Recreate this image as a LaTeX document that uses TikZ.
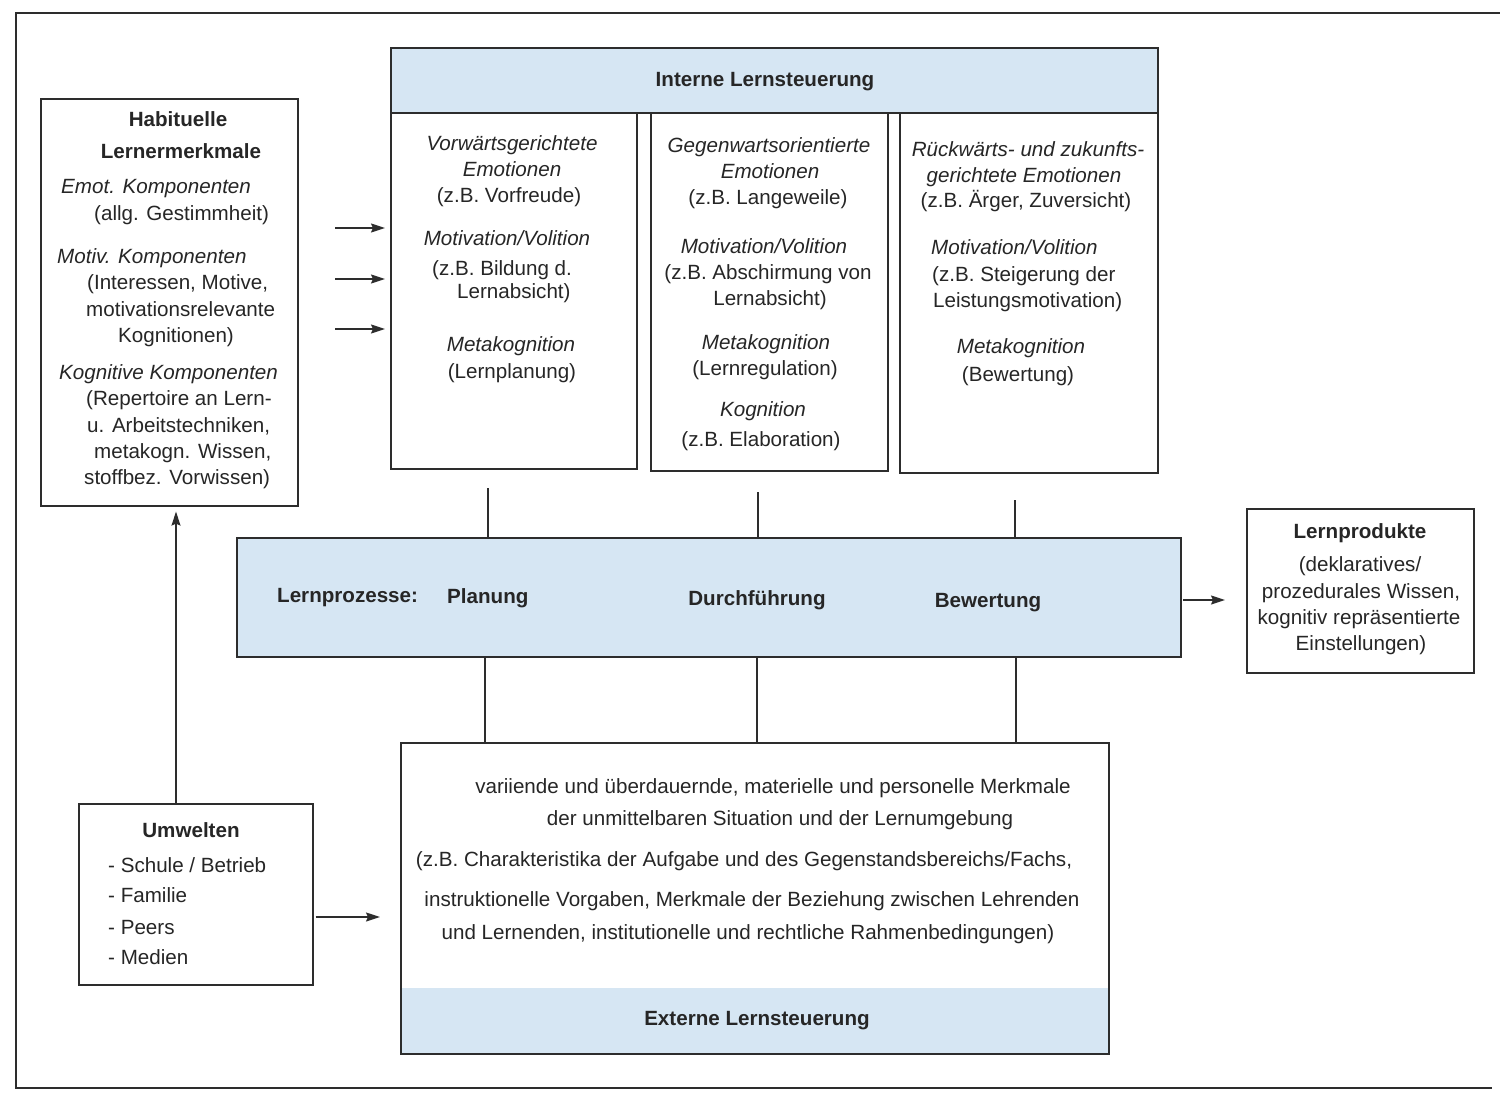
\documentclass[tikz,border=0pt]{standalone}
\usepackage{fontspec}
\setmainfont{Liberation Sans}
\usetikzlibrary{arrows.meta}
\definecolor{frame}{RGB}{45,45,45}
\definecolor{boxblue}{RGB}{214,230,243}
\begin{document}
\begin{tikzpicture}[x=1pt,y=-1pt,
  box/.style={draw=frame, line width=1.6pt, inner sep=0pt, anchor=north west},
  shaded/.style={box, fill=boxblue},
  tx/.style={inner sep=0pt, text height=15pt, text depth=4.5pt, text=black!85, font=\fontsize{20.6}{24}\selectfont},
  it/.style={tx, font=\fontsize{20.6}{24}\selectfont\itshape},
  bf/.style={tx, font=\fontsize{20.6}{24}\selectfont\bfseries},
  lft/.style={anchor=west},
  conn/.style={draw=frame, line width=1.4pt},
  arr/.style={conn, -{Stealth[length=14pt,width=9pt,inset=2pt]}}
]
\useasboundingbox (0,0) rectangle (1500,1094);
\fill[white] (0,0) rectangle (1500,1094);
% outer frame
\draw[frame, line width=2pt] (1500,13) -- (16,13) -- (16,1088) -- (1492,1088);

% ---------- boxes ----------
\node[box, minimum width=257pt, minimum height=407pt] (hab) at (40,98) {};
\node[shaded, minimum width=767pt, minimum height=65pt] (ihead) at (390,47) {};
\node[box, minimum width=246pt, minimum height=356pt] (col1) at (390,112) {};
\node[box, minimum width=237pt, minimum height=358pt] (col2) at (650,112) {};
\node[box, minimum width=258pt, minimum height=360pt] (col3) at (899,112) {};
\node[shaded, minimum width=944pt, minimum height=119pt] (proz) at (236,537) {};
\node[box, minimum width=227pt, minimum height=164pt] (prod) at (1246,508) {};
\node[box, minimum width=234pt, minimum height=181pt] (umw) at (78,803) {};
\fill[boxblue] (400,988) rectangle (1108,1053);
\node[box, minimum width=708pt, minimum height=311pt] (ext) at (400,742) {};

% ---------- Habituelle Lernermerkmale ----------
\node[bf] (h1) at (178,121) {Habituelle};
\node[bf] (h2) at (181,153) {Lernermerkmale};
\node[it, lft] (h3) at (61,188) {Emot. Komponenten};
\node[tx, lft] (h4) at (94,215) {(allg. Gestimmheit)};
\node[it, lft] (h5) at (57,258) {Motiv. Komponenten};
\node[tx, lft] (h6) at (87,284) {(Interessen, Motive,};
\node[tx, lft] (h7) at (86,311) {motivationsrelevante};
\node[tx, lft] (h8) at (118,337) {Kognitionen)};
\node[it, lft] (h9) at (59,374) {Kognitive Komponenten};
\node[tx, lft] (h10) at (86,400) {(Repertoire an Lern-};
\node[tx, lft] (h11) at (87,427) {u. Arbeitstechniken,};
\node[tx, lft] (h12) at (94,453) {metakogn. Wissen,};
\node[tx, lft] (h13) at (84,479) {stoffbez. Vorwissen)};

% ---------- Interne Lernsteuerung ----------
\node[bf] (ih) at (765,81) {Interne Lernsteuerung};

\node[it] (c1a) at (512,145) {Vorwärtsgerichtete};
\node[it] (c1b) at (512,171) {Emotionen};
\node[tx] (c1c) at (509,197) {(z.B. Vorfreude)};
\node[it] (c1d) at (507,240) {Motivation/Volition};
\node[tx, lft] (c1e) at (432,270) {(z.B. Bildung d.};
\node[tx, lft] (c1f) at (457,293) {Lernabsicht)};
\node[it] (c1g) at (511,346) {Metakognition};
\node[tx] (c1h) at (512,373) {(Lernplanung)};

\node[it] (c2a) at (769,147) {Gegenwartsorientierte};
\node[it] (c2b) at (770,173) {Emotionen};
\node[tx] (c2c) at (768,199) {(z.B. Langeweile)};
\node[it] (c2d) at (764,248) {Motivation/Volition};
\node[tx] (c2e) at (768,274) {(z.B. Abschirmung von};
\node[tx] (c2f) at (770,300) {Lernabsicht)};
\node[it] (c2g) at (766,344) {Metakognition};
\node[tx] (c2h) at (765,370) {(Lernregulation)};
\node[it] (c2i) at (763,411) {Kognition};
\node[tx] (c2j) at (761,441) {(z.B. Elaboration)};

\node[it] (c3a) at (1028,151) {Rückwärts- und zukunfts-};
\node[it] (c3b) at (1024,177) {gerichtete Emotionen};
\node[tx] (c3c) at (1026,202) {(z.B. Ärger, Zuversicht)};
\node[it, lft] (c3d) at (931,249) {Motivation/Volition};
\node[tx, lft] (c3e) at (932,276) {(z.B. Steigerung der};
\node[tx, lft] (c3f) at (933,302) {Leistungsmotivation)};
\node[it] (c3g) at (1021,348) {Metakognition};
\node[tx] (c3h) at (1018,376) {(Bewertung)};

% ---------- Lernprozesse ----------
\node[bf, lft] (p1) at (277,597) {Lernprozesse:};
\node[bf, lft] (p2) at (447,598) {Planung};
\node[bf] (p3) at (757,600) {Durchführung};
\node[bf] (p4) at (988,602) {Bewertung};

% ---------- Lernprodukte ----------
\node[bf] (r1) at (1360,533) {Lernprodukte};
\node[tx] (r2) at (1360,566) {(deklaratives/};
\node[tx] (r3) at (1361,593) {prozedurales Wissen,};
\node[tx] (r4) at (1359,619) {kognitiv repräsentierte};
\node[tx] (r5) at (1361,645) {Einstellungen)};

% ---------- Externe Lernsteuerung ----------
\node[tx] (e1) at (773,788) {variiende und überdauernde, materielle und personelle Merkmale};
\node[tx] (e2) at (780,820) {der unmittelbaren Situation und der Lernumgebung};
\node[tx] (e3) at (744,861) {(z.B. Charakteristika der Aufgabe und des Gegenstandsbereichs/Fachs,};
\node[tx] (e4) at (752,901) {instruktionelle Vorgaben, Merkmale der Beziehung zwischen Lehrenden};
\node[tx] (e5) at (748,934) {und Lernenden, institutionelle und rechtliche Rahmenbedingungen)};
\node[bf] (e6) at (757,1020) {Externe Lernsteuerung};

% ---------- Umwelten ----------
\node[bf] (u1) at (191,832) {Umwelten};
\node[tx, lft] (u2) at (108,867) {- Schule / Betrieb};
\node[tx, lft] (u3) at (108,897) {- Familie};
\node[tx, lft] (u4) at (108,929) {- Peers};
\node[tx, lft] (u5) at (108,959) {- Medien};

% ---------- connectors ----------
\coordinate (xa) at (176,0);
\draw[arr, shorten >=5pt] (umw.north -| xa) -- (hab.south -| xa);

\coordinate (a1) at (335,228);
\coordinate (a2) at (335,279);
\coordinate (a3) at (335,329);
\draw[arr, shorten >=5pt] (a1) -- (col1.west |- a1);
\draw[arr, shorten >=5pt] (a2) -- (col1.west |- a2);
\draw[arr, shorten >=5pt] (a3) -- (col1.west |- a3);

\coordinate (v1) at (488,488);
\coordinate (v2) at (758,492);
\coordinate (v3) at (1015,500);
\draw[conn] (v1) -- (proz.north -| v1);
\draw[conn] (v2) -- (proz.north -| v2);
\draw[conn] (v3) -- (proz.north -| v3);

\coordinate (w1) at (485,0);
\coordinate (w2) at (757,0);
\coordinate (w3) at (1016,0);
\draw[conn] (proz.south -| w1) -- (ext.north -| w1);
\draw[conn] (proz.south -| w2) -- (ext.north -| w2);
\draw[conn] (proz.south -| w3) -- (ext.north -| w3);

\coordinate (pa) at (1183,600);
\draw[arr, shorten >=21pt] (pa) -- (prod.west |- pa);

\coordinate (ua) at (0,917);
\draw[arr, shorten <=2pt, shorten >=20pt] (umw.east |- ua) -- (ext.west |- ua);
\end{tikzpicture}
\end{document}
